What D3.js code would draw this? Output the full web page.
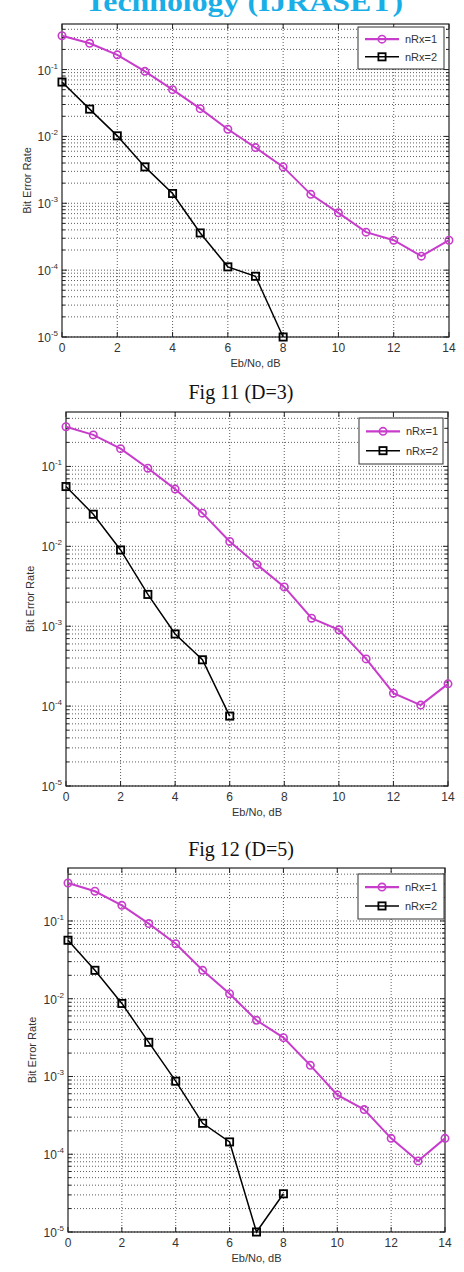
<!DOCTYPE html>
<html>
<head>
<meta charset="utf-8">
<script src="https://cdn.jsdelivr.net/npm/d3@7"></script>
<style>
	body	{ margin: 0; background: #fff; }
	svg	{ display: block; }
</style>
</head>
<body>
<div id="plot"></div>
<script>

///////////////////////////////////////////////////////////////////////
// data

let ebno = [ 0, 1, 2, 3, 4, 5, 6, 7, 8, 9, 10, 11, 12, 13, 14 ];

let y_decades = [ 1e-5, 1e-4, 1e-3, 1e-2, 1e-1 ];
let y_exps = [ "-5", "-4", "-3", "-2", "-1" ];
let x_ticks = [ 0, 2, 4, 6, 8, 10, 12, 14 ];

let series_names = [ "nRx=1", "nRx=2" ];

// top panel, Fig 11 (D=3)
let fig11_rx1 = [ 0.32, 0.247, 0.166, 0.094, 0.050, 0.026, 0.0128, 0.0068, 0.0035, 0.00136, 7.2e-4, 3.7e-4, 2.8e-4, 1.62e-4, 2.8e-4 ];
let fig11_rx2 = [ 0.065, 0.0256, 0.0102, 0.0035, 0.0014, 3.6e-4, 1.12e-4, 8.1e-5, 1.0e-5 ];

// middle panel, Fig 12 (D=5)
let fig12_rx1 = [ 0.314, 0.248, 0.167, 0.095, 0.052, 0.026, 0.0115, 0.0059, 0.0031, 0.00126, 9.0e-4, 3.9e-4, 1.45e-4, 1.03e-4, 1.9e-4 ];
let fig12_rx2 = [ 0.056, 0.0252, 0.0090, 0.0025, 8.0e-4, 3.8e-4, 7.5e-5 ];

// bottom panel
let fig13_rx1 = [ 0.308, 0.241, 0.159, 0.0925, 0.051, 0.0232, 0.0116, 0.00528, 0.00316, 0.00139, 5.8e-4, 3.75e-4, 1.6e-4, 8.2e-5, 1.6e-4 ];
let fig13_rx2 = [ 0.0565, 0.0232, 0.0087, 0.00275, 8.7e-4, 2.5e-4, 1.44e-4, 1.0e-5, 3.1e-5 ];

///////////////////////////////////////////////////////////////////////

let W = 464, H = 1272;
let Y_TOP = 0.48;

let col_rx1 = "#c83ccc";
let col_rx2 = "#000";

let panels = [
	{ left: 62, right: 449, top: 24, bottom: 337, rx1: fig11_rx1, rx2: fig11_rx2,
		caption: "Fig 11 (D=3)", cap_y: 399, ylab_x: 31,
		legend: { x: 358, y: 27, w: 86, h: 42 } },
	{ left: 66, right: 448, top: 412, bottom: 786, rx1: fig12_rx1, rx2: fig12_rx2,
		caption: "Fig 12 (D=5)", cap_y: 856, ylab_x: 34,
		legend: { x: 359, y: 418, w: 84, h: 46 } },
	{ left: 68, right: 445, top: 868, bottom: 1232, rx1: fig13_rx1, rx2: fig13_rx2,
		caption: null, cap_y: 0, ylab_x: 36,
		legend: { x: 358, y: 874, w: 86, h: 45 } }
];

let svg = d3.select( "#plot" )
	.append( "svg" )
		.attr( "width", W )
		.attr( "height", H )
		.attr( "viewBox", [ 0, 0, W, H ] );

// journal header, cut at the top of the page
svg.append( "text" )
	.attr( "x", 85 )
	.attr( "y", 11 )
	.attr( "textLength", 318 )
	.attr( "lengthAdjust", "spacingAndGlyphs" )
	.attr( "font-family", "Liberation Serif, serif" )
	.attr( "font-weight", "bold" )
	.attr( "font-size", 28 )
	.attr( "fill", "#1aaee6" )
	.text( "Technology (IJRASET)" );

for( let i=0; i< panels.length; i++ )	{
	draw_panel( svg, panels[ i ] );
}

///////////////////////////////////////////////////////////////////////

function draw_panel( svg, p )	{

	let x = d3.scaleLinear()
		.domain( [ 0, 14 ] )
		.range( [ p.left, p.right ] );

	let y = d3.scaleLog()
		.domain( [ 1e-5, Y_TOP ] )
		.range( [ p.bottom, p.top ] );

	let g = svg.append( "g" );

	// minor values for the log grid
	let minors = [];
	for( let k=0; k< y_decades.length; k++ )	{
		for( let m=2; m<= 9; m++ )	{
			let v = y_decades[ k ] * m;
			if( v < Y_TOP ) minors.push( v );
		}
	}

	// grid, dotted like matlab
	g.append( "g" )
		.selectAll( "line" )
		.data( y_decades.concat( minors ) )
		.join( "line" )
			.attr( "x1", p.left )
			.attr( "x2", p.right )
			.attr( "y1", d => y( d ) )
			.attr( "y2", d => y( d ) )
			.attr( "stroke", "#333" )
			.attr( "stroke-width", 0.8 )
			.attr( "stroke-dasharray", "1,2" );

	g.append( "g" )
		.selectAll( "line" )
		.data( x_ticks.slice( 1, -1 ) )
		.join( "line" )
			.attr( "x1", d => x( d ) )
			.attr( "x2", d => x( d ) )
			.attr( "y1", p.top )
			.attr( "y2", p.bottom )
			.attr( "stroke", "#333" )
			.attr( "stroke-width", 0.8 )
			.attr( "stroke-dasharray", "1,2" );

	// inward ticks on all four sides
	let tk = g.append( "g" )
		.attr( "stroke", "#222" )
		.attr( "stroke-width", 1 );

	x_ticks.forEach( d => {
		tk.append( "line" ).attr( "x1", x( d ) ).attr( "x2", x( d ) ).attr( "y1", p.bottom ).attr( "y2", p.bottom - 5 );
		tk.append( "line" ).attr( "x1", x( d ) ).attr( "x2", x( d ) ).attr( "y1", p.top ).attr( "y2", p.top + 5 );
	} );
	y_decades.forEach( d => {
		tk.append( "line" ).attr( "x1", p.left ).attr( "x2", p.left + 5 ).attr( "y1", y( d ) ).attr( "y2", y( d ) );
		tk.append( "line" ).attr( "x1", p.right ).attr( "x2", p.right - 5 ).attr( "y1", y( d ) ).attr( "y2", y( d ) );
	} );
	minors.forEach( d => {
		tk.append( "line" ).attr( "x1", p.left ).attr( "x2", p.left + 3 ).attr( "y1", y( d ) ).attr( "y2", y( d ) );
		tk.append( "line" ).attr( "x1", p.right ).attr( "x2", p.right - 3 ).attr( "y1", y( d ) ).attr( "y2", y( d ) );
	} );

	// box
	g.append( "rect" )
		.attr( "x", p.left )
		.attr( "y", p.top )
		.attr( "width", p.right - p.left )
		.attr( "height", p.bottom - p.top )
		.attr( "fill", "none" )
		.attr( "stroke", "#222" )
		.attr( "stroke-width", 1.2 );

	// tick labels
	g.append( "g" )
		.selectAll( "text" )
		.data( x_ticks )
		.join( "text" )
			.attr( "x", d => x( d ) )
			.attr( "y", p.bottom + 15 )
			.attr( "text-anchor", "middle" )
			.attr( "font-family", "Liberation Sans, Arial, sans-serif" )
			.attr( "font-size", 12 )
			.attr( "fill", "#333" )
			.text( d => d );

	let yl = g.append( "g" )
		.selectAll( "text" )
		.data( y_decades )
		.join( "text" )
			.attr( "x", p.left - 4 )
			.attr( "y", d => y( d ) + 5 )
			.attr( "text-anchor", "end" )
			.attr( "font-family", "Liberation Sans, Arial, sans-serif" )
			.attr( "font-size", 12 )
			.attr( "fill", "#333" );
	yl.append( "tspan" ).text( "10" );
	yl.append( "tspan" )
		.attr( "dy", -6 )
		.attr( "font-size", 8 )
		.text( ( d, i ) => y_exps[ i ] );

	// axis titles
	g.append( "text" )
		.attr( "x", ( p.left + p.right ) / 2 )
		.attr( "y", p.bottom + 30 )
		.attr( "text-anchor", "middle" )
		.attr( "font-family", "Liberation Sans, Arial, sans-serif" )
		.attr( "font-size", 11 )
		.attr( "fill", "#333" )
		.text( "Eb/No, dB" );

	g.append( "text" )
		.attr( "transform", "translate(" + p.ylab_x + "," + ( ( p.top + p.bottom ) / 2 ) + ") rotate(-90)" )
		.attr( "text-anchor", "middle" )
		.attr( "font-family", "Liberation Sans, Arial, sans-serif" )
		.attr( "font-size", 11 )
		.attr( "fill", "#333" )
		.text( "Bit Error Rate" );

	// series
	let line = d3.line()
		.x( ( d, i ) => x( ebno[ i ] ) )
		.y( d => y( d ) );

	g.append( "path" )
		.attr( "d", line( p.rx1 ) )
		.attr( "fill", "none" )
		.attr( "stroke", col_rx1 )
		.attr( "stroke-width", 2 );

	g.append( "g" )
		.selectAll( "circle" )
		.data( p.rx1 )
		.join( "circle" )
			.attr( "cx", ( d, i ) => x( ebno[ i ] ) )
			.attr( "cy", d => y( d ) )
			.attr( "r", 3.7 )
			.attr( "fill", "none" )
			.attr( "stroke", col_rx1 )
			.attr( "stroke-width", 1.6 );

	g.append( "path" )
		.attr( "d", line( p.rx2 ) )
		.attr( "fill", "none" )
		.attr( "stroke", col_rx2 )
		.attr( "stroke-width", 1.5 );

	g.append( "g" )
		.selectAll( "rect" )
		.data( p.rx2 )
		.join( "rect" )
			.attr( "x", ( d, i ) => x( ebno[ i ] ) - 3.6 )
			.attr( "y", d => y( d ) - 3.6 )
			.attr( "width", 7.2 )
			.attr( "height", 7.2 )
			.attr( "fill", "none" )
			.attr( "stroke", col_rx2 )
			.attr( "stroke-width", 1.8 );

	// legend
	let L = p.legend;
	let lg = g.append( "g" );
	lg.append( "rect" )
		.attr( "x", L.x )
		.attr( "y", L.y )
		.attr( "width", L.w )
		.attr( "height", L.h )
		.attr( "fill", "#fff" )
		.attr( "stroke", "#333" )
		.attr( "stroke-width", 1 );

	let rows = [ L.y + L.h * 0.29, L.y + L.h * 0.71 ];
	lg.append( "line" )
		.attr( "x1", L.x + 7 ).attr( "x2", L.x + 41 )
		.attr( "y1", rows[ 0 ] ).attr( "y2", rows[ 0 ] )
		.attr( "stroke", col_rx1 ).attr( "stroke-width", 2.2 );
	lg.append( "circle" )
		.attr( "cx", L.x + 24 ).attr( "cy", rows[ 0 ] ).attr( "r", 3.7 )
		.attr( "fill", "none" ).attr( "stroke", col_rx1 ).attr( "stroke-width", 1.6 );
	lg.append( "line" )
		.attr( "x1", L.x + 7 ).attr( "x2", L.x + 41 )
		.attr( "y1", rows[ 1 ] ).attr( "y2", rows[ 1 ] )
		.attr( "stroke", col_rx2 ).attr( "stroke-width", 1.5 );
	lg.append( "rect" )
		.attr( "x", L.x + 24 - 3.6 ).attr( "y", rows[ 1 ] - 3.6 )
		.attr( "width", 7.2 ).attr( "height", 7.2 )
		.attr( "fill", "none" ).attr( "stroke", col_rx2 ).attr( "stroke-width", 1.8 );

	lg.selectAll( "text.lab" )
		.data( series_names )
		.join( "text" )
			.attr( "class", "lab" )
			.attr( "x", L.x + 47 )
			.attr( "y", ( d, i ) => rows[ i ] + 4 )
			.attr( "font-family", "Liberation Sans, Arial, sans-serif" )
			.attr( "font-size", 11 )
			.attr( "fill", "#333" )
			.text( d => d );

	// figure caption under the panel
	if( p.caption )	{
		svg.append( "text" )
			.attr( "x", 241 )
			.attr( "y", p.cap_y )
			.attr( "text-anchor", "middle" )
			.attr( "font-family", "Liberation Serif, serif" )
			.attr( "font-size", 20 )
			.attr( "fill", "#111" )
			.text( p.caption );
	}
}

</script>
</body>
</html>
